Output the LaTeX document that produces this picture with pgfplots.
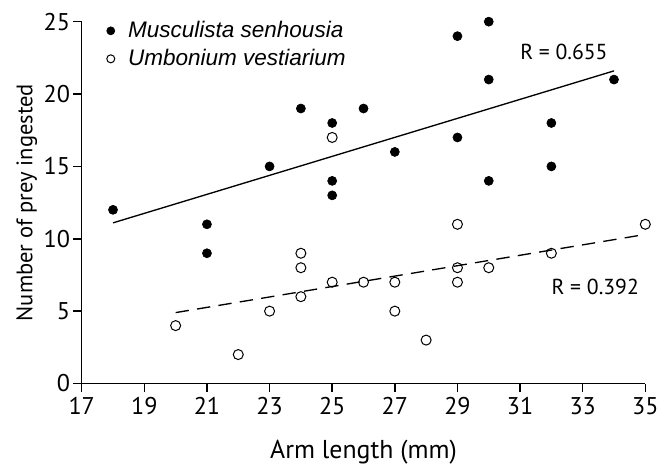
\documentclass[border=0pt]{standalone}
\usepackage{pgfplots}
\pgfplotsset{compat=1.18}
\usepackage{fontspec}
\setmainfont{PT Sans}
\newfontfamily\legfont{Liberation Sans}

\pgfplotstableread{
x y
18 12
21 11
21 9
23 15
24 19
25 18
25 14
25 13
26 19
27 16
29 24
29 17
30 25
30 21
30 14
32 18
32 15
34 21
}\musc

\pgfplotstableread{
x y
20 4
22 2
23 5
24 9
24 8
24 6
25 17
25 7
26 7
27 7
27 5
28 3
29 11
29 8
29 7
30 8
32 9
35 11
}\umbo

\begin{document}
\begin{tikzpicture}
\begin{axis}[
  scale only axis,
  width=338pt, height=217pt,
  xmin=17, xmax=35, ymin=0, ymax=25,
  xtick={17,19,...,35}, ytick={0,5,...,25},
  axis lines=left,
  axis line style={-, line width=0.9pt},
  tick style={line width=0.9pt, black},
  tick align=outside,
  major tick length=5pt,
  clip=false,
  /pgf/number format/assume math mode=true,
  tick label style={font=\fontsize{14.5}{16}\selectfont},
  yticklabel style={xshift=1.5pt},
  xlabel={Arm length (mm)},
  ylabel={Number of prey ingested},
  xlabel style={font=\fontsize{15.5}{17}\selectfont, yshift=-8pt},
  ylabel style={font=\fontsize{13.5}{15}\selectfont, yshift=-3pt},
  legend style={draw=none, fill=none, at={(0.035,1.02)}, anchor=north west,
    font=\legfont\itshape\fontsize{13.5}{16}\selectfont, row sep=1.5pt,
    legend cell align=left, nodes={inner xsep=8pt}},
  legend image code/.code={\draw[#1, mark size=2.4pt] plot coordinates {(0.12cm,0cm)};},
]
\addplot[only marks, mark=*, mark size=2.7pt, black] table[x=x,y=y] {\musc};
\addlegendentry{Musculista senhousia}
\addplot[only marks, mark=o, mark size=3.0pt, black, mark options={line width=0.6pt, fill=white}] table[x=x,y=y] {\umbo};
\addlegendentry{Umbonium vestiarium}
\addplot[black, line width=0.8pt, forget plot] coordinates {(18,11.1) (34,21.6)};
\addplot[black, line width=0.8pt, dash pattern=on 8pt off 5pt, forget plot] coordinates {(20,4.9) (35,10.3)};
\node[font=\fontsize{13}{15}\selectfont] at (axis cs:32.4,22.9) {R = 0.655};
\node[font=\fontsize{13}{15}\selectfont] at (axis cs:33.4,6.65) {R = 0.392};
\path (rel axis cs:0,0) ++(-49pt,-44pt) coordinate (bbA);
\path (rel axis cs:1,1) ++(13pt,13pt) coordinate (bbB);
\end{axis}
\path (bbA) (bbB);
\end{tikzpicture}
\end{document}
